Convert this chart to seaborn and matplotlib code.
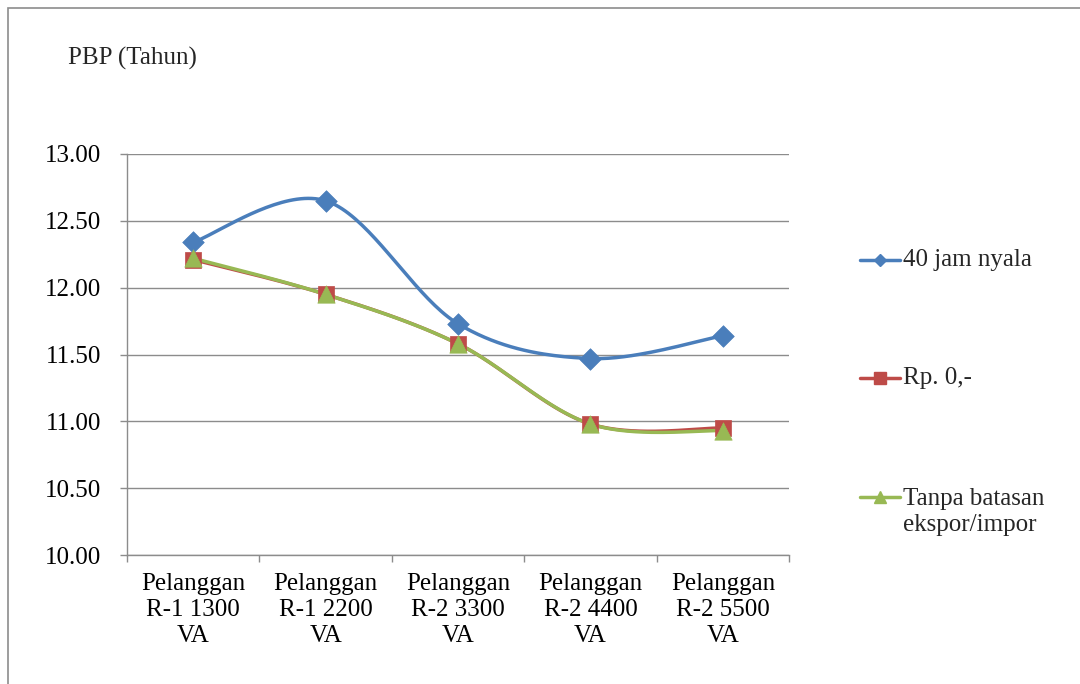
import numpy as np
import pandas as pd
import matplotlib
matplotlib.use("Agg")
import matplotlib.pyplot as plt
from matplotlib.lines import Line2D
from matplotlib.patches import Rectangle
import seaborn as sns

categories = ["Pelanggan\nR-1 1300\nVA", "Pelanggan\nR-1 2200\nVA", "Pelanggan\nR-2 3300\nVA",
              "Pelanggan\nR-2 4400\nVA", "Pelanggan\nR-2 5500\nVA"]
series_names = ["40 jam nyala", "Rp. 0,-", "Tanpa batasan\nekspor/impor"]
jam_nyala = [12.34, 12.65, 11.73, 11.47, 11.64]
rp_nol = [12.21, 11.95, 11.58, 10.98, 10.95]
tanpa_batasan = [12.22, 11.95, 11.58, 10.98, 10.93]
y_ticks = [10.0, 10.5, 11.0, 11.5, 12.0, 12.5, 13.0]

colors = ["#4A7EBB", "#BE4B48", "#98B954"]
markers = ["D", "s", "^"]
marker_sizes = [11, 11.5, 12.5]
legend_marker_sizes = [6.5, 8.5, 8.5]
FS = 18

sns.set_theme(style="white")
plt.rcParams["font.family"] = ["Liberation Serif", "DejaVu Serif"]


def smooth(xs, ys, steps=40):
    """Cubic Bezier smoothing through every point (Catmull-Rom style)."""
    p = np.column_stack([xs, ys]).astype(float)
    n = len(p)
    out = []
    for i in range(n - 1):
        p0 = p[max(i - 1, 0)]
        p1 = p[i]
        p2 = p[i + 1]
        p3 = p[min(i + 2, n - 1)]
        c1 = p1 + (p2 - p0) / 6.0
        c2 = p2 - (p3 - p1) / 6.0
        t = np.linspace(0, 1, steps, endpoint=(i == n - 2))[:, None]
        seg = ((1 - t) ** 3) * p1 + 3 * ((1 - t) ** 2) * t * c1 + 3 * (1 - t) * t ** 2 * c2 + t ** 3 * p2
        out.append(seg)
    out = np.vstack(out)
    return out[:, 0], out[:, 1]


x_pos = np.arange(len(categories))
values = [jam_nyala, rp_nol, tanpa_batasan]

fig = plt.figure(figsize=(10.8, 6.84), dpi=100)
ax = fig.add_axes([127 / 1080, 1 - 555 / 684, (789 - 127) / 1080, (555 - 154) / 684])

for name, vals, col, mk, ms in zip(series_names, values, colors, markers, marker_sizes):
    sx, sy = smooth(x_pos, vals)
    curve = pd.DataFrame({"x": sx, "y": sy})
    sns.lineplot(data=curve, x="x", y="y", ax=ax, color=col, linewidth=2.5,
                 sort=False, estimator=None, legend=False)
    pts = pd.DataFrame({"x": x_pos, "y": vals})
    sns.scatterplot(data=pts, x="x", y="y", ax=ax, color=col, marker=mk, s=ms ** 2,
                    edgecolor=col, linewidth=0.5, legend=False, zorder=5)

ax.set_xlim(-0.5, len(categories) - 0.5)
ax.set_ylim(10.0, 13.0)
ax.set_yticks(y_ticks)
ax.set_yticklabels([f"{v:.2f}" for v in y_ticks])
ax.set_xticks(x_pos)
ax.set_xticklabels(categories, linespacing=1.22)
ax.set_xticks(np.arange(-0.5, len(categories), 1.0), minor=True)
ax.set_xlabel("")
ax.set_ylabel("")

ax.grid(axis="y", color="#8C8C8C", linewidth=1.0)
ax.grid(axis="x", visible=False)
ax.set_axisbelow(True)
for side in ["top", "right"]:
    ax.spines[side].set_visible(False)
for side in ["left", "bottom"]:
    ax.spines[side].set_visible(True)
    ax.spines[side].set_color("#8C8C8C")
    ax.spines[side].set_linewidth(1.0)

ax.tick_params(axis="y", which="major", left=True, length=5, width=1.0, color="#8C8C8C",
               pad=13.5, labelsize=FS, labelcolor="black")
ax.tick_params(axis="x", which="major", bottom=False, length=0, pad=13, labelsize=FS,
               labelcolor="black")
ax.tick_params(axis="x", which="minor", bottom=True, length=5, width=1.0, color="#8C8C8C")

# outer chart frame
fig.add_artist(Rectangle((8 / 1080, -0.1), 1.2, (684 - 8) / 684 + 0.1, transform=fig.transFigure,
                         fill=False, edgecolor="#8C8C8C", linewidth=1.2))

fig.text(68 / 1080, 1 - 58 / 684, "PBP (Tahun)", fontsize=FS, va="center", ha="left")

# legend
legend_y = [260, 378, 497]
for name, col, mk, lms, ly in zip(series_names, colors, markers, legend_marker_sizes, legend_y):
    yf = 1 - ly / 684
    fig.add_artist(Line2D([860 / 1080, 900 / 1080], [yf, yf], transform=fig.transFigure,
                          color=col, linewidth=2.5))
    fig.add_artist(Line2D([880 / 1080], [yf], transform=fig.transFigure, color=col,
                          marker=mk, markersize=lms, markeredgecolor=col, linestyle="none"))
    if "\n" in name:
        fig.text(903 / 1080, 1 - (ly - 9) / 684, name, fontsize=FS, va="top", ha="left",
                 linespacing=1.22)
    else:
        fig.text(903 / 1080, yf, name, fontsize=FS, va="center", ha="left")

fig.savefig("out.png", dpi=100, facecolor="white")
